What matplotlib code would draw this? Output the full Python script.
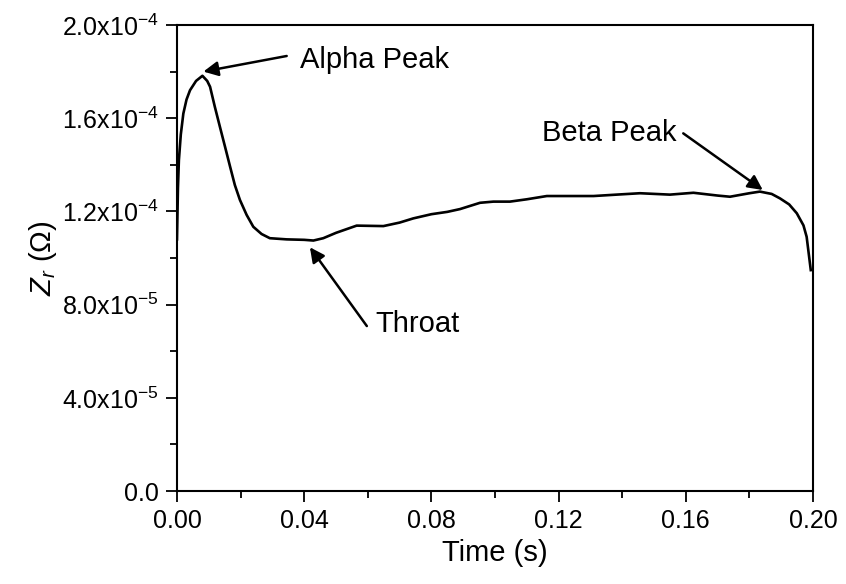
import numpy as np
import matplotlib
matplotlib.use("Agg")
import matplotlib.pyplot as plt
from matplotlib.ticker import MultipleLocator

plt.rcParams['font.family'] = ['Liberation Sans', 'DejaVu Sans']
plt.rcParams['mathtext.fontset'] = 'custom'
plt.rcParams['mathtext.rm'] = 'Liberation Sans'
plt.rcParams['mathtext.it'] = 'Liberation Sans:italic'

# time (s) and Zr (units of 1e-4 ohm)
time_s = [0.0000, 0.0003, 0.0006, 0.0012, 0.0020, 0.0030, 0.0041, 0.0060,
          0.0080, 0.0095, 0.0104, 0.0119, 0.0135, 0.0151, 0.0167, 0.0182,
          0.0198, 0.0219, 0.0240, 0.0266, 0.0292, 0.0345, 0.0400, 0.0429,
          0.0460, 0.0500, 0.0565, 0.0649, 0.0700, 0.0743, 0.0800, 0.0850,
          0.0890, 0.0953, 0.0995, 0.1047, 0.1100, 0.1163, 0.1310, 0.1382,
          0.1456, 0.1550, 0.1624, 0.1700, 0.1739, 0.1800, 0.1833, 0.1870,
          0.1896, 0.1925, 0.1949, 0.1970, 0.1980, 0.1993]
zr_e4 = [1.08, 1.30, 1.42, 1.53, 1.62, 1.68, 1.72, 1.76,
         1.782, 1.76, 1.735, 1.649, 1.563, 1.478, 1.392, 1.313,
         1.249, 1.185, 1.134, 1.103, 1.085, 1.080, 1.078, 1.075,
         1.085, 1.108, 1.139, 1.137, 1.152, 1.170, 1.188, 1.198,
         1.210, 1.237, 1.242, 1.242, 1.252, 1.266, 1.266, 1.272,
         1.278, 1.272, 1.280, 1.268, 1.263, 1.278, 1.285, 1.275,
         1.256, 1.23, 1.192, 1.14, 1.091, 0.948]

xticks = [0.00, 0.04, 0.08, 0.12, 0.16, 0.20]
xticklabels = ['0.00', '0.04', '0.08', '0.12', '0.16', '0.20']
yticks = [0.0, 4e-5, 8e-5, 1.2e-4, 1.6e-4, 2.0e-4]
yticklabels = ['0.0', r'4.0x10$^{-5}$', r'8.0x10$^{-5}$', r'1.2x10$^{-4}$',
               r'1.6x10$^{-4}$', r'2.0x10$^{-4}$']

t = np.array(time_s)
z = np.array(zr_e4) * 1e-4

fig = plt.figure(figsize=(8.46, 5.84), dpi=100)
ax = fig.add_axes([0.2092, 0.1592, 0.7518, 0.798])
ax.plot(t, z, color='black', linewidth=1.9)

ax.set_xlim(0, 0.20)
ax.set_ylim(0, 2.0e-4)
ax.set_xticks(xticks)
ax.set_xticklabels(xticklabels)
ax.set_yticks(yticks)
ax.set_yticklabels(yticklabels)
ax.xaxis.set_minor_locator(MultipleLocator(0.02))
ax.yaxis.set_minor_locator(MultipleLocator(2e-5))
ax.tick_params(which='major', direction='out', length=8, width=1.3,
               labelsize=18, colors='black', pad=5)
ax.tick_params(which='minor', direction='out', length=5, width=1.3)
for s in ax.spines.values():
    s.set_linewidth(1.5)

ax.set_xlabel('Time (s)', fontsize=21, labelpad=4)
ax.set_ylabel(r'$Z_r$ ($\Omega$)', fontsize=21, labelpad=2)

arrow = dict(arrowstyle='-|>', color='black', lw=1.8, mutation_scale=22,
             shrinkA=0, shrinkB=0)
ax.annotate('', xy=(0.0083, 1.80e-4), xytext=(0.0345, 1.867e-4), arrowprops=arrow)
ax.text(0.0387, 1.85e-4, 'Alpha Peak', fontsize=21, va='center', ha='left')

ax.annotate('', xy=(0.0418, 1.046e-4), xytext=(0.0597, 0.708e-4), arrowprops=arrow)
ax.text(0.0623, 0.715e-4, 'Throat', fontsize=21, va='center', ha='left')

ax.annotate('', xy=(0.1842, 1.292e-4), xytext=(0.1592, 1.535e-4), arrowprops=arrow)
ax.text(0.1572, 1.536e-4, 'Beta Peak', fontsize=21, va='center', ha='right')

fig.savefig('out.png', dpi=100)
